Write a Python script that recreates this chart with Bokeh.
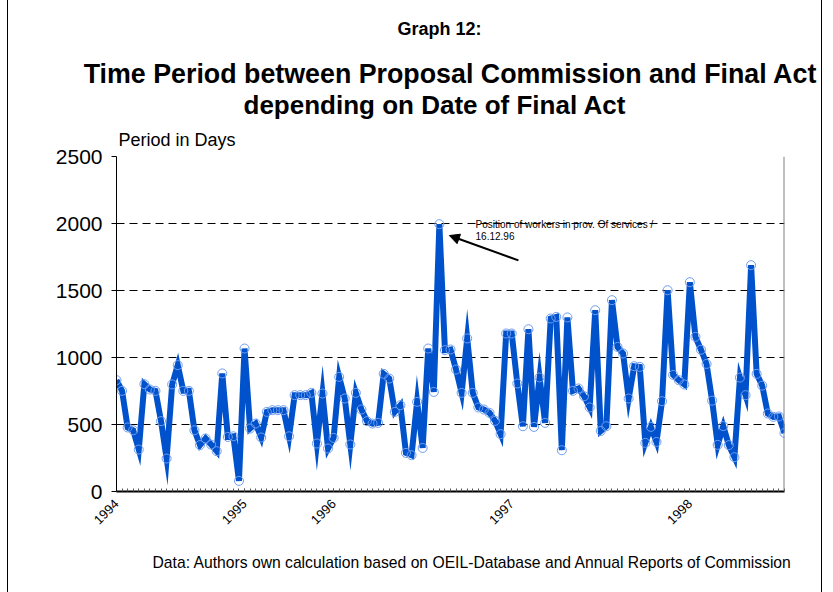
import math
from bokeh.plotting import figure
from bokeh.models import FixedTicker, Label, Arrow, NormalHead, Span, Range1d, Title
from bokeh.embed import file_html
from bokeh.resources import INLINE

# Period in days between Commission proposal and final act, ordered by date of final act
period_days = [
    831, 751, 478, 457, 313, 801, 761, 751, 525, 246,
    799, 943, 751, 751, 457, 346, 396, 350, 301, 881,
    407, 412, 79, 1067, 470, 507, 403, 594, 607, 607,
    607, 412, 719, 719, 719, 736, 358, 731, 321, 400,
    855, 694, 351, 736, 612, 525, 507, 512, 878, 843,
    594, 644, 288, 271, 669, 325, 1067, 743, 1995, 1055,
    1060, 910, 736, 1142, 736, 627, 612, 587, 527, 428,
    1179, 1179, 806, 487, 1211, 482, 851, 512, 1291, 1303,
    308, 1299, 751, 769, 711, 627, 1353, 452, 487, 1428,
    1079, 1030, 694, 935, 930, 363, 482, 370, 674, 1502,
    870, 831, 799, 1562, 1154, 1058, 952, 678, 348, 488,
    346, 256, 850, 719, 1689, 878, 790, 582, 557, 560,
    437,
]
act_index = list(range(len(period_days)))

year_labels = ["1994", "1995", "1996", "1997", "1998"]
year_first_index = [0, 23, 39, 71, 103]

y_ticks = [0, 500, 1000, 1500, 2000, 2500]
grid_levels = [500, 1000, 1500, 2000]

peak_index = 58
peak_note = "Position of workers in prov. Of services /\n16.12.96"
source_note = "Data: Authors own calculation based on OEIL-Database and Annual Reports of Commission"

FONT = "Liberation Sans"

p = figure(width=815, height=592, output_backend="svg", toolbar_location=None, title=None,
           min_border_left=108, min_border_right=39, min_border_top=156, min_border_bottom=101,
           x_range=Range1d(0, len(period_days) - 1), y_range=Range1d(0, 2500))
p.styles = {"margin-left": "7px", "border-left": "1px solid black",
            "border-right": "1px solid black"}
p.outline_line_color = None
p.background_fill_color = "white"
p.border_fill_color = "white"

# grid
p.xgrid.visible = False
p.ygrid.ticker = FixedTicker(ticks=grid_levels)
p.ygrid.grid_line_color = "black"
p.ygrid.grid_line_dash = "8 5"
p.ygrid.grid_line_width = 1

# y axis
p.yaxis.ticker = FixedTicker(ticks=y_ticks)
p.yaxis.axis_line_color = "black"
p.yaxis.major_tick_in = 0
p.yaxis.major_tick_out = 5
p.yaxis.minor_tick_line_color = None
p.yaxis.major_label_text_font = FONT
p.yaxis.major_label_text_font_size = "21px"
p.yaxis.major_label_text_color = "black"
p.yaxis.major_label_standoff = 9

# x axis
p.xaxis.ticker = FixedTicker(ticks=year_first_index, minor_ticks=act_index)
p.xaxis.major_label_overrides = {i: y for i, y in zip(year_first_index, year_labels)}
p.xaxis.major_label_orientation = math.pi / 4
p.xaxis.major_label_text_font = FONT
p.xaxis.major_label_text_font_size = "13px"
p.xaxis.major_label_text_color = "black"
p.xaxis.axis_line_color = "black"
p.xaxis.axis_line_width = 2
p.xaxis.major_tick_in = 3
p.xaxis.major_tick_out = 0
p.xaxis.minor_tick_in = 3
p.xaxis.minor_tick_out = 0
p.xaxis.minor_tick_line_color = "#555555"
p.xaxis.major_tick_line_color = "#555555"
p.xaxis.major_label_standoff = 10

# right edge line
p.add_layout(Span(location=len(period_days) - 1, dimension="height",
                  line_color="#808080", line_width=2))

# series
p.line(act_index, period_days, line_color="#0052cc", line_width=6, line_join="miter")
p.scatter(act_index, period_days, marker="circle", size=9, fill_color=None,
          line_color="#6f9df0", line_width=1)

# annotation for the peak
p.add_layout(Label(x=peak_index + 6.5, y=period_days[peak_index] + 40, text=peak_note,
                   text_font=FONT, text_font_size="10px", text_color="black",
                   text_baseline="top", text_align="left", text_line_height=1.1))
p.add_layout(Arrow(end=NormalHead(size=10, fill_color="black", line_color="black"),
                   x_start=peak_index + 14.2, y_start=period_days[peak_index] - 270,
                   x_end=peak_index + 1.8, y_end=period_days[peak_index] - 85,
                   line_color="black", line_width=2))

# titles (stacked outward from the plot frame)
def add_title(text, size, where="above", bold=False, align="left", offset=0, standoff=0,
              valign="bottom"):
    p.add_layout(Title(text=text, text_font=FONT, text_font_size=size, text_color="black",
                       text_font_style="bold" if bold else "normal", vertical_align=valign,
                       align=align, offset=offset, standoff=standoff), where)

add_title("Period in Days", "18px", offset=2, standoff=13)
add_title("depending on Date of Final Act", "26px", bold=True, offset=127, standoff=3)
add_title("Time Period between Proposal Commission and Final Act", "26.8px", bold=True,
          align="center", standoff=-4)
add_title("Graph 12:", "18px", bold=True, offset=281, standoff=35, valign="top")
add_title(source_note, "15.7px", where="below", offset=36, standoff=41)

open("out.html", "w").write(file_html(p, INLINE))
